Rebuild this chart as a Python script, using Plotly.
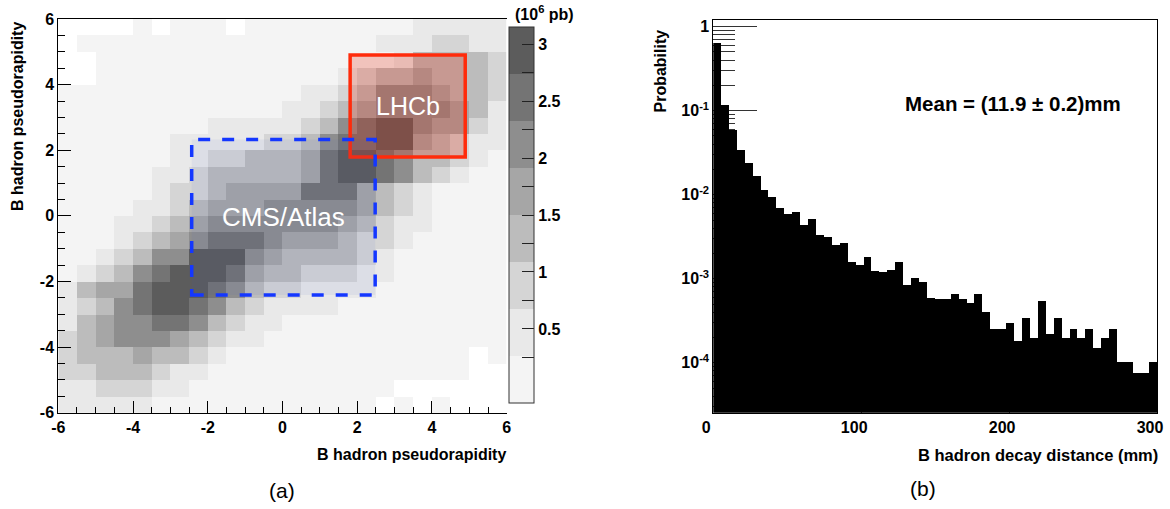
import numpy as np
import plotly.graph_objects as go

# ---------------- panel (a): B hadron pseudorapidity correlation ----------------
eta_edges = np.linspace(-6, 6, 25)          # 0.5-wide bins in both directions
# grey level of each cell, rows from eta_y = +6 (top) down to -6, columns eta_x from -6 to +6
xsec_level_rows = [
    [0,0,0,0,1,0,1,1,1,0,1,1, 1,1,1,1,1,1,1,2,2,2,2,2],
    [0,1,1,1,1,1,1,1,1,1,1,1, 1,1,1,1,1,2,2,2,3,3,2,2],
    [0,0,1,1,1,1,1,1,1,1,1,1, 1,1,1,1,1,1,2,4,4,4,4,3],
    [0,0,1,1,1,1,1,1,1,1,1,1, 1,1,1,2,3,4,4,5,4,4,4,3],
    [1,1,1,1,1,1,1,1,1,1,1,1, 1,2,2,3,4,6,6,6,5,4,4,3],
    [1,1,1,1,1,1,1,1,1,1,1,1, 2,2,3,4,5,6,6,6,6,5,4,2],
    [1,1,1,1,1,1,1,1,2,2,2,2, 2,3,4,6,7,8,8,6,5,5,3,2],
    [1,1,1,1,1,1,2,2,2,2,2,3, 3,4,6,7,7,8,8,5,4,3,2,2],
    [1,1,1,1,1,1,2,2,3,3,4,4, 4,5,7,8,8,7,6,4,4,3,2,1],
    [1,1,1,1,1,2,2,3,4,4,4,4, 4,5,7,8,8,7,6,4,3,2,1,1],
    [1,1,1,1,1,2,3,3,4,5,5,5, 5,7,7,7,5,4,3,2,1,1,1,1],
    [1,1,1,1,2,2,3,4,5,5,5,6, 6,6,6,6,5,4,3,2,1,1,1,1],
    [1,1,1,2,2,3,4,5,6,6,6,6, 6,6,6,5,4,3,2,2,1,1,1,1],
    [1,1,1,2,3,4,5,6,7,7,7,6, 5,5,5,4,3,3,2,1,1,1,1,1],
    [1,1,2,3,4,6,6,8,8,8,6,5, 4,4,4,4,3,2,1,1,1,1,1,1],
    [1,2,3,4,6,7,8,8,8,7,5,4, 4,3,3,3,2,2,1,1,1,1,1,1],
    [2,4,5,5,7,8,8,8,7,6,4,3, 3,2,2,2,2,1,1,1,1,1,1,1],
    [2,3,4,6,7,8,8,7,6,4,3,2, 2,2,2,1,1,1,1,1,1,1,1,1],
    [2,4,5,6,6,7,7,6,4,3,2,2, 1,1,1,1,1,1,1,1,1,1,1,1],
    [3,4,5,6,6,6,5,4,3,2,2,1, 1,1,1,1,1,1,1,1,1,1,1,1],
    [3,4,4,4,5,4,4,3,2,1,1,1, 1,1,1,1,1,1,1,1,1,1,0,1],
    [3,3,4,4,4,3,2,2,1,1,1,1, 1,1,1,1,1,1,1,1,1,1,0,0],
    [2,2,3,3,3,2,2,1,1,1,1,1, 1,1,1,1,1,1,0,0,0,0,0,0],
    [2,2,2,2,2,1,1,1,1,1,1,1, 1,1,1,1,1,0,1,0,1,0,0,0],
]
# cross-section (10^6 pb) represented by each grey level (0 = empty)
level_xsec = [None, 0.05, 0.45, 0.9, 1.3, 1.7, 2.1, 2.55, 2.95]
xsec_min, xsec_max = -0.15, 3.15
band_colors = ["#f4f4f4", "#e9e9e9", "#d5d5d5", "#bcbcbc",
               "#a6a6a6", "#8e8e8e", "#747474", "#5c5c5c"]
cbar_tick_vals = [0.25, 0.5, 0.75, 1.0, 1.25, 1.5, 1.75, 2.0, 2.25, 2.5, 2.75, 3.0]
cbar_tick_text = [" ", "0.5", " ", "1", " ", "1.5", " ", "2", " ", "2.5", " ", "3"]
eta_tick_vals = [-6, -4, -2, 0, 2, 4, 6]
eta_tick_text = ["-6", "-4", "-2", "0", "2", "4", "6"]

lhcb_box = dict(x0=1.81, x1=4.89, y0=1.79, y1=4.90)
cms_box = dict(x0=-2.43, x1=2.48, y0=-2.41, y1=2.33)

# ---------------- panel (b): B hadron decay distance ----------------
decay_range = (0, 300)
decay_prob = [
    0.652, 0.1194, 0.0594, 0.0350, 0.0240, 0.0168, 0.01148, 0.00952, 0.00710, 0.00594,
    0.00628, 0.00445, 0.00528, 0.00336, 0.00322, 0.00257, 0.00268, 0.00162, 0.00147, 0.00183,
    0.00124, 0.00121, 0.00129, 0.00159, 0.000849, 0.00104, 0.000914, 0.000605, 0.000589, 0.000589,
    0.000658, 0.000589, 0.000514, 0.000658, 0.000402, 0.000259, 0.000259, 0.000305, 0.000186, 0.000350,
    0.000197, 0.000543, 0.000220, 0.000350, 0.000202, 0.000259, 0.000202, 0.000259, 0.000150, 0.000202,
    0.000259, 0.000102, 0.000102, 0.0000775, 0.0000775, 0.000102,
]
prob_tick_vals = [1, 0.1, 0.01, 0.001, 0.0001]
prob_tick_text = ["1", "10<sup>-1</sup>", "10<sup>-2</sup>", "10<sup>-3</sup>", "10<sup>-4</sup>"]
dist_tick_vals = [0, 100, 200, 300]

# ---------------- figure ----------------
W, H = 1170, 509
FONT = "Liberation Sans, Arial, Helvetica, sans-serif"

def px_x(p):
    return p / W

def px_y(p):
    return (H - p) / H

eta_centers = 0.5 * (eta_edges[:-1] + eta_edges[1:])
z = [[level_xsec[v] for v in row] for row in xsec_level_rows[::-1]]

nb = len(band_colors)
colorscale = []
for k, c in enumerate(band_colors):
    colorscale.append([k / nb, c])
    colorscale.append([(k + 1) / nb, c])

n_bins = len(decay_prob)
bw = (decay_range[1] - decay_range[0]) / n_bins
dist_centers = decay_range[0] + bw * (np.arange(n_bins) + 0.5)

minor_prob = [k * 10.0 ** e for e in range(-5, 1) for k in range(2, 10)]

tickfont = dict(family=FONT, size=16, color="black", weight="bold")

fig = go.Figure()
fig.add_trace(go.Heatmap(
    x=eta_centers, y=eta_centers, z=z,
    zmin=xsec_min, zmax=xsec_max, colorscale=colorscale, zsmooth=False,
    xaxis="x", yaxis="y", hoverongaps=False,
    colorbar=dict(
        x=px_x(509), xanchor="left", y=px_y(403), yanchor="bottom",
        thickness=25, thicknessmode="pixels", len=376, lenmode="pixels",
        xpad=0, ypad=0, outlinewidth=1, outlinecolor="#333333",
        tickmode="array", tickvals=cbar_tick_vals, ticktext=cbar_tick_text,
        ticks="inside", ticklen=12, tickcolor="#222222",
        tickfont=dict(family=FONT, size=16, color="black", weight="bold"),
    ),
))
fig.add_trace(go.Bar(
    x=dist_centers, y=decay_prob, width=bw,
    marker=dict(color="black", line=dict(width=0)),
    xaxis="x2", yaxis="y2",
))

fig.update_layout(
    width=W, height=H, margin=dict(l=0, r=0, t=0, b=0),
    template="none", paper_bgcolor="white", plot_bgcolor="white",
    showlegend=False, bargap=0,
    xaxis=dict(
        domain=[px_x(58.3), px_x(506.7)], range=[-6, 6], anchor="y",
        tickmode="array", tickvals=eta_tick_vals, ticktext=eta_tick_text,
        ticks="inside", ticklen=12, tickcolor="black",
        minor=dict(tickmode="linear", tick0=-6, dtick=0.5, ticks="inside", ticklen=6, tickcolor="black"),
        showline=True, linecolor="black", linewidth=1, mirror=True,
        showgrid=False, zeroline=False, tickfont=tickfont,
    ),
    yaxis=dict(
        domain=[px_y(412.7), px_y(19)], range=[-6, 6], anchor="x",
        tickmode="array", tickvals=eta_tick_vals, ticktext=eta_tick_text,
        ticks="inside", ticklen=13, tickcolor="black",
        minor=dict(tickmode="linear", tick0=-6, dtick=0.5, ticks="inside", ticklen=7, tickcolor="black"),
        showline=True, linecolor="black", linewidth=1,
        showgrid=False, zeroline=False, tickfont=tickfont,
    ),
    xaxis2=dict(
        domain=[px_x(713.3), px_x(1157)], range=list(decay_range), anchor="y2",
        tickmode="array", tickvals=dist_tick_vals, ticks="inside", ticklen=10,
        ticklabeloverflow="allow", ticklabelshift=-7,
        showline=True, linecolor="black", linewidth=1, mirror=True,
        showgrid=False, zeroline=False, tickfont=tickfont, layer="below traces",
    ),
    yaxis2=dict(
        domain=[px_y(412.7), px_y(19.5)], type="log", range=[-4.595, 0.0857], anchor="x2",
        tickmode="array", tickvals=prob_tick_vals, ticktext=prob_tick_text,
        ticks="inside", ticklen=44, tickcolor="#333333",
        minor=dict(tickmode="array", tickvals=minor_prob, ticks="inside", ticklen=22, tickcolor="#333333"),
        showline=True, linecolor="black", linewidth=1, mirror=True,
        showgrid=False, zeroline=False, tickfont=tickfont, layer="below traces",
    ),
)

fig.add_shape(type="rect", xref="x", yref="y", **lhcb_box,
              fillcolor="rgba(236,46,18,0.243)", line=dict(color="#ff2b0b", width=3.5), layer="above")
fig.add_shape(type="rect", xref="x", yref="y", **cms_box,
              fillcolor="rgba(60,80,200,0.07)", line=dict(color="#1437ff", width=3.5, dash="12px,12px"),
              layer="above")

def ann(text, x, y, size, bold=True, color="black", xanchor="center", yanchor="middle",
        xref="paper", yref="paper", angle=0):
    fig.add_annotation(text=text, x=x, y=y, xref=xref, yref=yref, showarrow=False,
                       xanchor=xanchor, yanchor=yanchor, textangle=angle,
                       font=dict(family=FONT, size=size, color=color,
                                 weight="bold" if bold else "normal"))

ann("LHCb", 3.36, 3.35, 25, bold=False, color="white", xref="x", yref="y")
ann("CMS/Atlas", 0.02, -0.03, 26, bold=False, color="white", xref="x", yref="y")
ann("B hadron pseudorapidity", px_x(508), px_y(454), 16, xanchor="right")
ann("B hadron pseudorapidity", px_x(17.5), px_y(20), 16, yanchor="top", angle=-90)
ann("(10<sup>6</sup> pb)", px_x(544), px_y(13), 16)
ann("(a)", px_x(282), px_y(490), 21, bold=False)
ann("(b)", px_x(923), px_y(488), 21, bold=False)
ann("Probability", px_x(660), px_y(28), 16, yanchor="top", angle=-90)
ann("B hadron decay distance (mm)", px_x(1160), px_y(455), 16.5, xanchor="right")
ann("Mean = (11.9 ± 0.2)mm", px_x(1013), px_y(104), 20.5)

fig.write_html("out.html")
